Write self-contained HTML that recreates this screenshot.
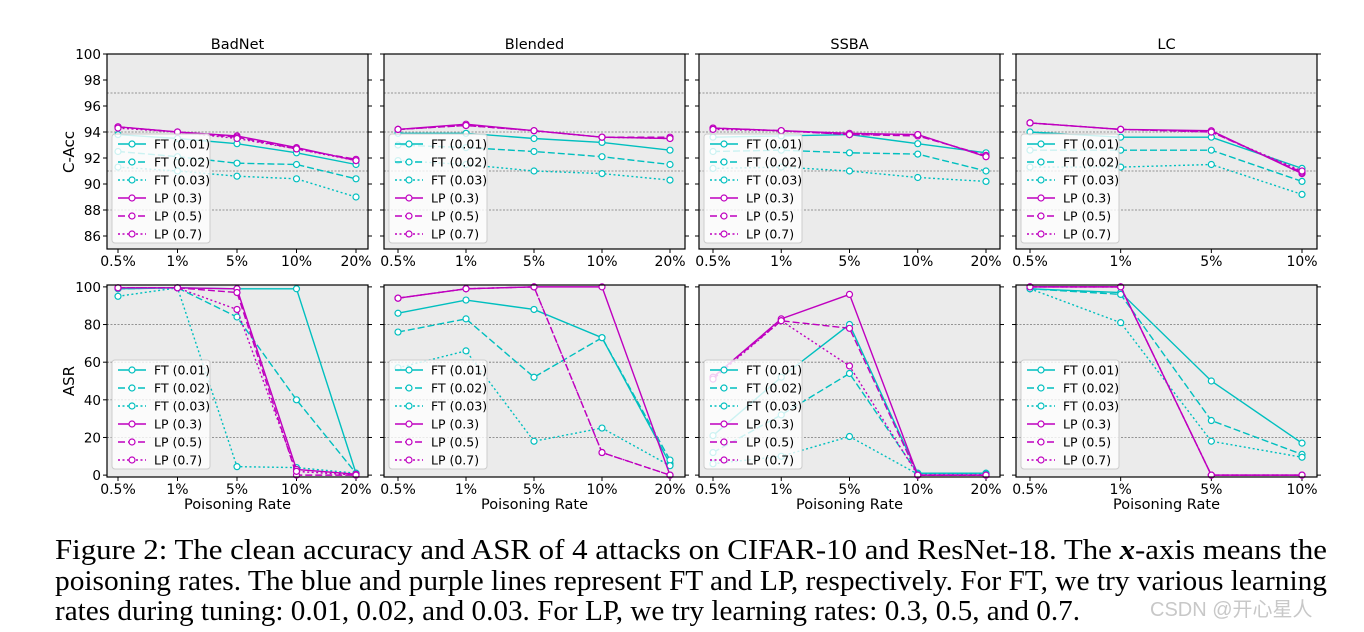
<!DOCTYPE html>
<html><head><meta charset="utf-8"><style>
body{margin:0;background:#fff;width:1364px;height:632px;overflow:hidden}
svg{display:block}
</style></head><body>
<svg id="fig" width="1364" height="632" xmlns="http://www.w3.org/2000/svg" font-family="'DejaVu Sans', 'Liberation Sans', sans-serif">
<g id="plots"></g>
<g font-family="'Liberation Serif', serif" font-size="29" fill="#000">
<text x="55" y="559" textLength="1272" lengthAdjust="spacingAndGlyphs">Figure 2:  The clean accuracy and ASR of 4 attacks on CIFAR-10 and ResNet-18. The <tspan font-style="italic" font-weight="bold">x</tspan>-axis means the</text>
<text x="55" y="590" textLength="1272" lengthAdjust="spacingAndGlyphs">poisoning rates. The blue and purple lines represent FT and LP, respectively. For FT, we try various learning</text>
<text x="55" y="620" textLength="1025" lengthAdjust="spacingAndGlyphs">rates during tuning: 0.01, 0.02, and 0.03. For LP, we try learning rates: 0.3, 0.5, and 0.7.</text>
</g>
<text x="1150" y="616" font-size="20" fill="#c8c8c8" font-family="'Liberation Sans','Noto Sans CJK SC',sans-serif">CSDN @开心星人</text>
</svg>
<script>
const attacks=["BadNet","Blended","SSBA","LC"];
const rates5=["0.5%","1%","5%","10%","20%"];
const rates4=["0.5%","1%","5%","10%"];
const seriesNames=["FT (0.01)","FT (0.02)","FT (0.03)","LP (0.3)","LP (0.5)","LP (0.7)"];
const accTicks=[86,88,90,92,94,96,98,100];
const accGrid=[88,91,94,97];
const asrTicks=[0,20,40,60,80,100];
const asrGrid=[20,40,60,80];
const accBadNet=[[93.8,93.5,93.1,92.4,91.5],[92.5,92.1,91.6,91.5,90.4],[91.3,91.0,90.6,90.4,89.0],[94.4,94.0,93.7,92.8,91.8],[94.4,94.0,93.6,92.7,91.9],[94.3,94.0,93.5,92.7,91.8]];
const accBlended=[[93.9,93.9,93.5,93.2,92.6],[93.0,92.8,92.5,92.1,91.5],[91.8,91.5,91.0,90.8,90.3],[94.2,94.6,94.1,93.6,93.5],[94.2,94.5,94.1,93.6,93.6],[94.2,94.5,94.1,93.6,93.5]];
const accSSBA=[[93.6,93.7,93.8,93.1,92.4],[92.5,92.6,92.4,92.3,91.0],[91.2,91.3,91.0,90.5,90.2],[94.3,94.1,93.9,93.8,92.1],[94.3,94.1,93.8,93.7,92.2],[94.2,94.1,93.8,93.8,92.1]];
const accLC=[[94.0,93.6,93.6,91.2],[92.6,92.6,92.6,90.2],[91.3,91.3,91.5,89.2],[94.7,94.2,94.1,90.8],[94.7,94.2,94.0,90.9],[94.7,94.2,94.0,91.0]];
const asrBadNet=[[99,99.5,99,99,1],[99,99.5,84,40,1],[95,99.5,4.5,4,1],[99.5,99.5,99,3,0.5],[99.5,99.5,97,0,0],[99.5,99.5,88,2,0]];
const asrBlended=[[86,93,88,73,6],[76,83,52,73,8],[57,66,18,25,5],[94,99,100,100,0],[94,99,100,12,0],[94,99,100,12,0]];
const asrSSBA=[[21,52,80,1,1],[12,32,54,1,1],[6,10,20.5,0.5,0.5],[52,83,96,0,0],[52,82,78,0,0],[51,82,58,0,0]];
const asrLC=[[99,97,50,17],[99,96,29,11],[99,81,18,9.5],[100,100,0,0],[100,100,0,0],[100,100,0,0]];

const NS="http://www.w3.org/2000/svg";
const root=document.getElementById('plots');
function mk(tag,attrs,parent){const e=document.createElementNS(NS,tag);for(const k in attrs)e.setAttribute(k,attrs[k]);(parent||root).appendChild(e);return e;}
const panelsX=[[107,368,118,356],[384,685,398,670],[699,1000,713,986],[1016,1317,1030,1302]];
const colors=["#00bfbf","#00bfbf","#00bfbf","#bf00bf","#bf00bf","#bf00bf"];
const dashes=["","7,3","2,2.5","","7,3","2,2.5"];
const accData=[accBadNet,accBlended,accSSBA,accLC];
const asrData=[asrBadNet,asrBlended,asrSSBA,asrLC];

function panel(pi,row){
  const [L,R,x0,x1]=panelsX[pi];
  const top=row===0?54:285, bot=row===0?249:477;
  const ymin=row===0?85:-1, ymax=row===0?100:101;
  const cats=pi===3?rates4:rates5;
  const data=row===0?accData[pi]:asrData[pi];
  const xs=i=>x0+(x1-x0)*i/(cats.length-1);
  const ys=v=>bot-(v-ymin)/(ymax-ymin)*(bot-top);
  const g=mk('g',{});
  
  
  mk('rect',{x:L,y:top,width:R-L,height:bot-top,fill:'#ebebeb'},g);
  (row===0?accGrid:asrGrid).forEach(v=>{
    const l=mk('line',{x1:L,x2:R,y1:ys(v),y2:ys(v),stroke:'#777','stroke-width':0.8,'stroke-dasharray':'2,1.5'},g);
    
  });
  (row===0?accTicks:asrTicks).forEach(v=>{
    const y=ys(v);
    mk('line',{x1:L-4,x2:L,y1:y,y2:y,stroke:'#000','stroke-width':1},g);
    mk('line',{x1:R,x2:R+4,y1:y,y2:y,stroke:'#000','stroke-width':1},g);
    if(pi===0){const t=mk('text',{x:L-6,y:y+5,'text-anchor':'end','font-size':13.5},g);t.textContent=v;
      }
  });
  cats.forEach((c,i)=>{
    mk('line',{x1:xs(i),x2:xs(i),y1:bot,y2:bot+4,stroke:'#000'},g);
    const t=mk('text',{x:xs(i),y:bot+17,'text-anchor':'middle','font-size':14},g);t.textContent=c;
    
  });
  data.forEach((s,si)=>{
    const sg=mk('g',{},g);
    
    
    mk('polyline',{points:s.map((v,i)=>xs(i)+','+ys(v)).join(' '),fill:'none',stroke:colors[si],'stroke-width':1.4,'stroke-dasharray':dashes[si]},sg);
    s.forEach((v,i)=>{const c=mk('circle',{cx:xs(i),cy:ys(v),r:3,fill:'#fff',stroke:colors[si],'stroke-width':1.2},sg);
      });
  });
  const ly=row===0?134:360;
  const lg=mk('g',{},g);
  
  mk('rect',{x:L+5,y:ly,width:98,height:109,rx:3,fill:'rgba(255,255,255,0.8)',stroke:'#ccc'},lg);
  seriesNames.forEach((n,si)=>{
    const y=ly+10+si*18;
    mk('line',{x1:L+11,x2:L+39,y1:y,y2:y,stroke:colors[si],'stroke-width':1.4,'stroke-dasharray':dashes[si]},lg);
    mk('circle',{cx:L+25,cy:y,r:3,fill:'#fff',stroke:colors[si],'stroke-width':1.2},lg);
    const t=mk('text',{x:L+47,y:y+4.5,'font-size':12.5},lg);t.textContent=n;
    
  });
  mk('rect',{x:L,y:top,width:R-L,height:bot-top,fill:'none',stroke:'#000','stroke-width':1.2},g);
  if(row===0){const t=mk('text',{x:(L+R)/2,y:49,'text-anchor':'middle','font-size':14.5},g);t.textContent=attacks[pi];
    }
  else{const t=mk('text',{x:(L+R)/2,y:509,'text-anchor':'middle','font-size':14.5},g);t.textContent='Poisoning Rate';
    }
}
for(let r=0;r<2;r++)for(let p=0;p<4;p++)panel(p,r);
let t=mk('text',{x:0,y:0,transform:'translate(74,152) rotate(-90)','text-anchor':'middle','font-size':15});t.textContent='C-Acc';

t=mk('text',{x:0,y:0,transform:'translate(74,381) rotate(-90)','text-anchor':'middle','font-size':15});t.textContent='ASR';

</script>
</body></html>
